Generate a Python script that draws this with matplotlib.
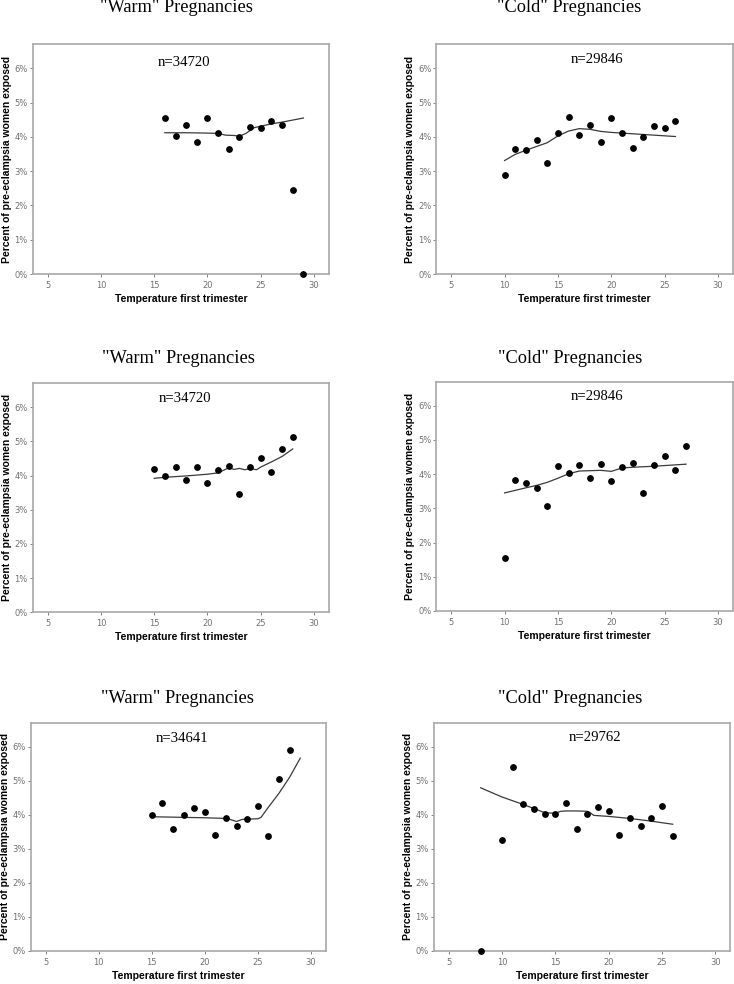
import numpy as np
import matplotlib
matplotlib.use("Agg")
import matplotlib.pyplot as plt
from matplotlib.ticker import PercentFormatter

# ---- datos (porcentaje) ----
titles = ['"Warm" Pregnancies', '"Cold" Pregnancies'] * 3
n_labels = ["n=34720", "n=29846", "n=34720", "n=29846", "n=34641", "n=29762"]

warm1_x = [16, 17, 18, 19, 20, 21, 22, 23, 24, 25, 26, 27, 28, 29]
warm1_y = [4.55, 4.02, 4.34, 3.85, 4.55, 4.10, 3.66, 4.01, 4.30, 4.25, 4.46, 4.36, 2.45, 0.0]
warm1_fit_x = [16, 18, 20, 21, 21.7, 22.5, 23, 23.6, 24.4, 25, 26, 27, 28, 29]
warm1_fit_y = [4.12, 4.12, 4.11, 4.10, 4.05, 4.04, 4.02, 4.10, 4.27, 4.31, 4.38, 4.43, 4.49, 4.55]

cold1_x = [10, 11, 12, 13, 14, 15, 16, 17, 18, 19, 20, 21, 22, 23, 24, 25, 26]
cold1_y = [2.89, 3.66, 3.63, 3.91, 3.23, 4.10, 4.57, 4.04, 4.35, 3.86, 4.56, 4.11, 3.67, 4.01, 4.32, 4.26, 4.47]
cold1_fit_x = [10, 11, 12, 13, 14, 15, 16, 17, 18, 19, 20, 22, 24, 26]
cold1_fit_y = [3.31, 3.49, 3.61, 3.72, 3.83, 4.03, 4.17, 4.24, 4.22, 4.16, 4.13, 4.09, 4.05, 4.01]

warm2_x = [15, 16, 17, 18, 19, 20, 21, 22, 23, 24, 25, 26, 27, 28]
warm2_y = [4.20, 4.00, 4.25, 3.88, 4.26, 3.79, 4.17, 4.29, 3.45, 4.24, 4.50, 4.10, 4.79, 5.12]
warm2_fit_x = [15, 16, 18, 20, 21, 22, 22.5, 23, 23.5, 24, 24.6, 25, 26, 27, 28]
warm2_fit_y = [3.92, 3.95, 3.99, 4.04, 4.08, 4.23, 4.18, 4.21, 4.17, 4.21, 4.17, 4.25, 4.40, 4.56, 4.78]

cold2_x = [10, 11, 12, 13, 14, 15, 16, 17, 18, 19, 20, 21, 22, 23, 24, 25, 26, 27]
cold2_y = [1.55, 3.82, 3.75, 3.60, 3.08, 4.23, 4.03, 4.27, 3.90, 4.29, 3.81, 4.21, 4.31, 3.46, 4.26, 4.53, 4.13, 4.81]
cold2_fit_x = [10, 12, 13, 14, 15, 16, 17, 18, 19, 20, 21, 22, 24, 25, 27]
cold2_fit_y = [3.45, 3.60, 3.67, 3.76, 3.88, 4.01, 4.09, 4.10, 4.11, 4.08, 4.18, 4.20, 4.23, 4.25, 4.29]

warm3_x = [15, 16, 17, 18, 19, 20, 21, 22, 23, 24, 25, 26, 27, 28]
warm3_y = [4.00, 4.33, 3.57, 4.00, 4.21, 4.09, 3.40, 3.90, 3.66, 3.88, 4.26, 3.38, 5.05, 5.91]
warm3_fit_x = [15, 20, 22, 22.5, 23, 23.5, 24, 25, 25.3, 26, 27, 28, 29]
warm3_fit_y = [3.94, 3.91, 3.89, 3.85, 3.80, 3.86, 3.87, 3.88, 3.92, 4.22, 4.63, 5.10, 5.66]

cold3_x = [8, 10, 11, 12, 13, 14, 15, 16, 17, 18, 19, 20, 21, 22, 23, 24, 25, 26]
cold3_y = [0.0, 3.26, 5.39, 4.31, 4.17, 4.02, 4.02, 4.34, 3.58, 4.01, 4.22, 4.10, 3.41, 3.91, 3.67, 3.89, 4.27, 3.38]
cold3_fit_x = [8, 10, 12, 13, 14, 15, 15.5, 16, 17, 18, 18.3, 18.6, 20, 22, 24, 26]
cold3_fit_y = [4.79, 4.52, 4.30, 4.18, 4.06, 4.04, 4.10, 4.11, 4.11, 4.10, 4.05, 3.98, 3.95, 3.89, 3.81, 3.72]

series = [
    (warm1_x, warm1_y, warm1_fit_x, warm1_fit_y),
    (cold1_x, cold1_y, cold1_fit_x, cold1_fit_y),
    (warm2_x, warm2_y, warm2_fit_x, warm2_fit_y),
    (cold2_x, cold2_y, cold2_fit_x, cold2_fit_y),
    (warm3_x, warm3_y, warm3_fit_x, warm3_fit_y),
    (cold3_x, cold3_y, cold3_fit_x, cold3_fit_y),
]

# ---- posiciones en pixeles (734x984) ----
W, H = 734, 984
boxes = [  # left, right, top, bottom
    (32.7, 329, 44.3, 274),
    (436.3, 733, 44.3, 274),
    (32.7, 329, 383.3, 612.3),
    (436.3, 733, 381.7, 611),
    (30.7, 325.7, 722.7, 951),
    (433.7, 730.3, 722.7, 951),
]
title_pos = [(176, 12), (569, 12), (178, 363), (570, 363), (177, 703), (570, 703)]
n_pos = [(0.512, 0.922), (0.54, 0.935), (0.514, 0.933), (0.54, 0.934), (0.513, 0.93), (0.543, 0.936)]

fig = plt.figure(figsize=(W / 100, H / 100), dpi=100)
fig.patch.set_facecolor("white")

for i, (xs, ys, fx, fy) in enumerate(series):
    l, r, t, b = boxes[i]
    ax = fig.add_axes([l / W, 1 - b / H, (r - l) / W, (b - t) / H])
    ax.plot(fx, fy, color="#3a3a3a", lw=0.9, zorder=2)
    ax.scatter(xs, ys, s=15, color="black", zorder=3, clip_on=False)

    ax.set_xlim(3.6, 31.4)
    ax.set_ylim(0, 6.7)
    ax.set_xticks([5, 10, 15, 20, 25, 30])
    ax.set_yticks([0, 1, 2, 3, 4, 5, 6])
    ax.yaxis.set_major_formatter(PercentFormatter(decimals=0))
    ax.tick_params(labelsize=6, labelcolor="#707070", color="#808080",
                   length=2.5, width=0.7, pad=1)
    ax.tick_params(axis="x", pad=2.5)
    for s in ax.spines.values():
        s.set_color("#a8a8a8")
        s.set_linewidth(1.2)

    ax.set_xlabel("Temperature first trimester", fontsize=7.5,
                  fontweight="bold", family="Liberation Sans")
    ax.set_ylabel("Percent of pre-eclampsia women exposed", fontsize=7.5,
                  fontweight="bold", family="Liberation Sans")
    ax.xaxis.set_label_coords(0.5, -20 / (b - t))
    ax.yaxis.set_label_coords(-21 / (r - l), 0.5)

    ax.text(n_pos[i][0], n_pos[i][1], n_labels[i], transform=ax.transAxes,
            ha="center", va="center", fontsize=10.6, family="Liberation Serif")

    tx, ty = title_pos[i]
    fig.text(tx / W, 1 - ty / H, titles[i], ha="center", va="baseline",
             fontsize=13.2, family="Liberation Serif")

fig.savefig("out.png", dpi=100, facecolor="white")
